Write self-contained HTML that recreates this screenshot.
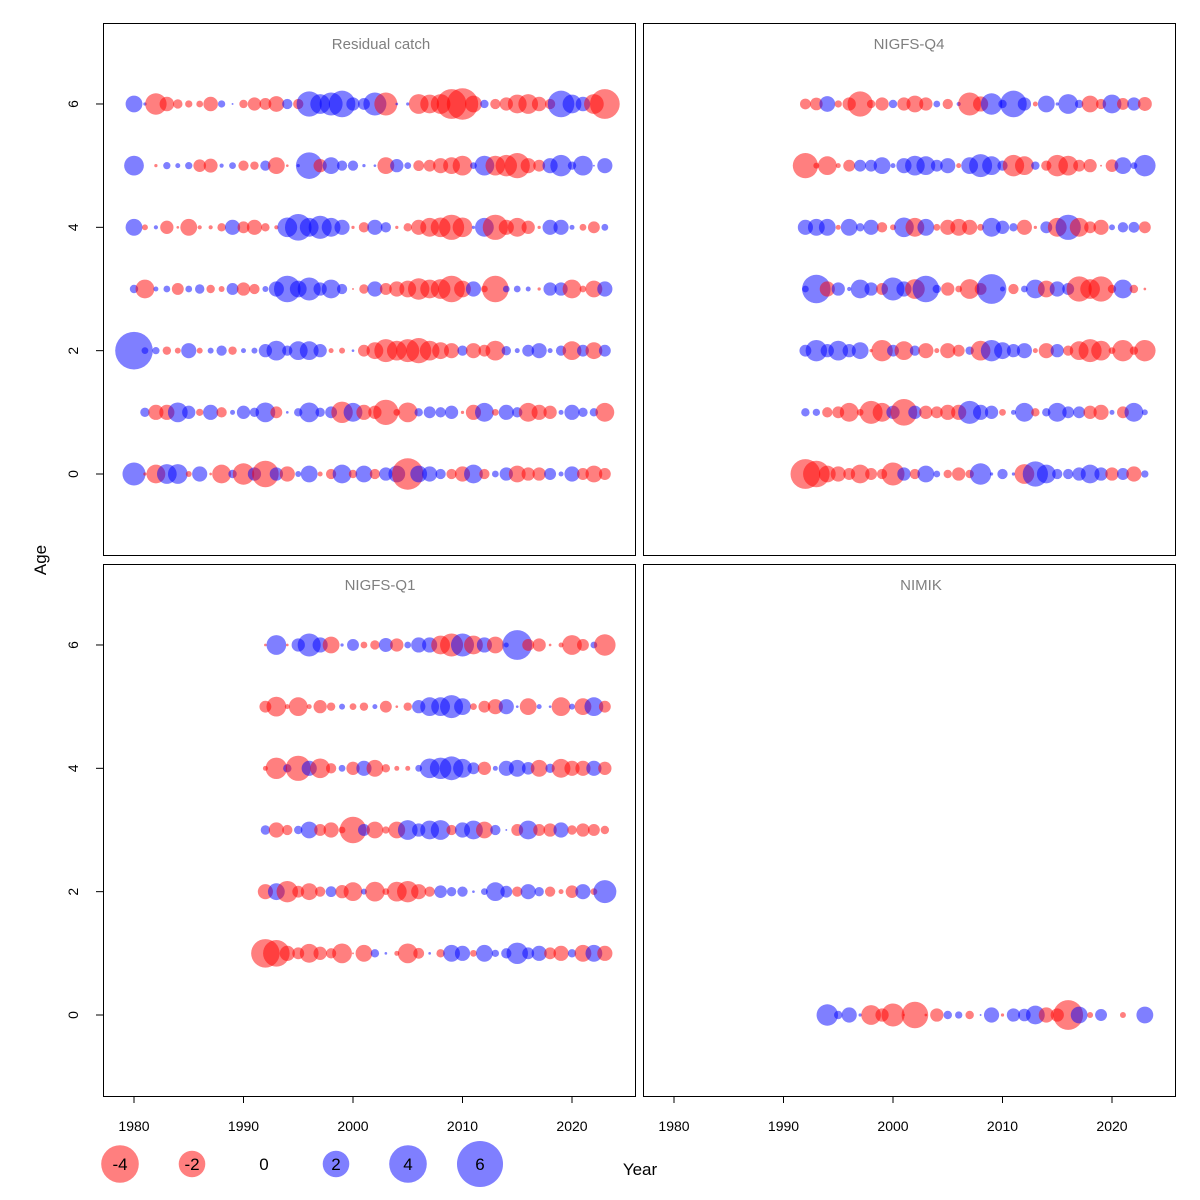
<!DOCTYPE html>
<html><head><meta charset="utf-8"><title>Residual bubble plots</title>
<style>html,body{margin:0;padding:0;background:#fff;}svg{display:block;font-family:"Liberation Sans",sans-serif;}</style>
</head><body>
<svg id="chart" width="1200" height="1200" viewBox="0 0 1200 1200" xmlns="http://www.w3.org/2000/svg"></svg>
<script>
// ---- data ----
const ages = [0, 1, 2, 3, 4, 5, 6];
const xTicks = [1980, 1990, 2000, 2010, 2020];
const yTicks = [0, 2, 4, 6];
const legendValues = [-4, -2, 0, 2, 4, 6];
const panelTitles = ["Residual catch", "NIGFS-Q4", "NIGFS-Q1", "NIMIK"];

const rcYears = [1980,1981,1982,1983,1984,1985,1986,1987,1988,1989,1990,1991,1992,1993,1994,1995,1996,1997,1998,1999,2000,2001,2002,2003,2004,2005,2006,2007,2008,2009,2010,2011,2012,2013,2014,2015,2016,2017,2018,2019,2020,2021,2022,2023];
const rcAge6 = [0.8,0.03,-1.3,-0.6,-0.25,-0.15,-0.13,-0.6,0.15,0.01,-0.2,-0.5,-0.4,-0.7,0.3,-0.3,1.8,1.1,1.5,2,0.5,0.4,1.5,-1.5,0.02,0.03,-1.1,-1,-1.1,-2.5,-2.8,-0.8,0.2,-0.3,-0.5,-1,-1.1,-0.6,-0.3,2,1,0.6,-1.1,-2.5];
const rcAge5 = [1.1,0,-0.03,0.15,0.07,0.15,-0.45,-0.55,0.05,0.13,-0.3,-0.2,0.3,-0.8,-0.02,0.03,2,-0.5,0.8,0.3,0.3,0.03,0.02,-0.8,0.5,0.13,-0.33,-0.4,-0.65,-0.8,-1.1,0.13,1.1,-1.1,-1.3,-1.8,-0.65,-0.4,0.65,1.3,0.2,1.1,0.01,0.65];
const rcAge4 = [0.8,-0.1,0.05,-0.5,-0.02,-0.8,-0.05,-0.05,-0.2,0.65,-0.4,-0.65,-0.2,-0.05,1.1,2,1,1.5,1,0.65,-0.03,-0.3,0.65,0.3,-0.03,-0.2,-0.65,-1,-1.1,-1.8,-1.1,0.03,1,-1.8,-0.65,-1,-0.5,-0.03,0.65,0.65,0.07,-0.13,-0.4,0.13];
const rcAge3 = [0.2,-1,0.07,0.13,-0.4,0.13,0.25,-0.2,-0.1,0.4,-0.5,-0.3,0.1,0.65,2,0.8,1.5,0.5,1,0.3,-0.01,-0.25,0.65,-0.4,-0.65,-0.8,-1.3,-1,-1.1,-2,-0.8,0.65,-0.13,-2,0.13,0.13,0.07,-0.03,0.5,0.5,-1,-0.13,-0.8,0.65];
const rcAge2 = [4,0.13,0.15,-0.2,-0.1,0.65,-0.1,0.1,0.3,-0.2,0.07,0.1,0.5,1.1,0.3,1,1,0.5,-0.07,-0.1,0.02,-0.4,-0.8,-1.5,-1.1,-1.5,-1.8,-1.1,-0.8,-0.65,0.3,-0.65,-0.4,-1.1,0.25,0.07,0.4,0.65,0.07,0.3,-1,0.4,-0.8,0.4];
const rcAge1 = [null,0.25,-0.65,-0.65,1.1,0.5,-0.15,0.65,-0.3,0.07,0.5,0.25,1.1,-0.4,0.02,0.2,1.1,0.25,0.4,-1.3,1,-0.65,-0.5,-1.8,-0.13,-1.1,0.2,0.4,0.3,0.5,-0.03,-0.65,1,-0.13,0.65,0.3,-1,-0.65,-0.5,0.07,0.65,0.25,0.2,-1];
const rcAge0 = [1.5,-0.03,-1,1.1,1.1,-0.1,0.65,-0.02,-1,0.2,-1.3,0.5,-2,0.5,-0.65,0.1,0.8,-0.07,-0.3,1,-0.2,0.8,-0.3,0.5,0.8,-2.8,0.8,0.65,0.3,-0.3,-0.65,1,-0.3,0.13,0.5,-0.8,-0.5,-0.5,0.4,0.07,0.65,-0.4,-0.8,-0.4];

const q4Years = [1992,1993,1994,1995,1996,1997,1998,1999,2000,2001,2002,2003,2004,2005,2006,2007,2008,2009,2010,2011,2012,2013,2014,2015,2016,2017,2018,2019,2020,2021,2022,2023];
const q4Age6 = [-0.33,-0.45,0.7,-0.15,-0.5,-1.8,-0.2,-0.5,0.2,-0.5,-0.8,-0.5,0.13,-0.3,0.05,-1.5,-0.65,1.3,0.2,2,0.5,-0.07,0.8,0.03,1.1,0.2,-0.8,-0.3,1,-0.4,0.5,-0.55];
const q4Age5 = [-1.8,-0.1,-1,-0.07,-0.4,0.4,0.4,0.8,0.07,0.65,1.1,1,0.4,0.65,-0.07,0.8,1.5,1,0.3,-1.3,-1,0.2,-0.3,-1.3,-1.1,-0.4,-0.5,-0.01,-0.45,0.8,0.13,1.3];
const q4Age4 = [0.65,0.8,0.8,-0.07,0.8,0.2,0.65,-0.3,-0.1,1.1,-1,0.8,-0.13,-0.65,-0.8,-0.65,-0.13,1,0.5,0.2,-0.65,-0.03,0.4,-1,1.8,-1,-0.4,-0.65,0.1,0.3,0.33,-0.4];
const q4Age3 = [0.13,2.3,-0.65,0.5,0.05,1,0.5,-0.4,1.5,0.65,-1.1,2,0.2,-0.5,-0.13,-1.1,-0.4,2.5,0.07,-0.3,0.13,1,-0.8,0.65,0.4,-1.8,-1.1,-1.8,-0.2,1,-0.2,-0.02];
const q4Age2 = [0.4,1.3,0.5,1.1,0.5,0.8,-0.03,-1.3,0.4,-1,0.3,-0.65,-0.07,-0.65,-0.4,0.2,-1.1,1.3,0.8,0.5,0.65,-0.07,-0.65,0.5,-0.3,-1,-1.5,-1.1,-0.13,-1.3,-0.2,-1.3];
const q4Age1 = [0.2,0.15,-0.3,-0.4,-1,-0.13,-1.5,-1,0.5,-2,0.5,-0.5,-0.4,-0.65,-0.65,1.5,0.65,0.5,-0.13,0.07,1,-0.2,0.2,1,0.4,0.4,-0.5,-0.65,0.07,-0.4,1,0.1];
const q4Age0 = [-2.5,-2,-0.8,-0.65,-0.4,-1,-0.4,-0.3,-1.5,0.5,-0.3,0.8,0.13,-0.2,-0.5,-0.2,1.3,0.03,0.3,0.03,-1.1,1.8,1,0.3,0.3,0.5,1,0.5,-0.5,0.4,-0.65,0.15];

const q1Years = [1992,1993,1994,1995,1996,1997,1998,1999,2000,2001,2002,2003,2004,2005,2006,2007,2008,2009,2010,2011,2012,2013,2014,2015,2016,2017,2018,2019,2020,2021,2022,2023];
const q1Age6 = [-0.02,1.1,-0.02,0.5,1.5,0.65,-0.8,0.03,0.4,-0.13,-0.25,0.55,-0.5,0.13,0.65,0.65,-1,-1.5,1.5,-1,0.65,-0.8,0.07,2.5,-0.4,-0.5,-0.02,-0.07,-1.1,-0.4,0.13,-1.3];
const q1Age5 = [-0.4,-1.1,-0.07,-1,-0.07,-0.5,-0.2,0.1,-0.13,-0.2,0.07,-0.4,-0.02,-0.2,0.5,1,1,1.5,0.8,-0.13,-0.4,-0.65,0.65,0.02,-0.8,0.07,0.02,-1,0.1,-0.8,1,-0.4];
const q1Age4 = [-0.07,-1.3,0.2,-1.8,0.65,-1.1,-0.3,0.13,-0.5,0.65,-0.8,-0.2,-0.07,-0.07,0.13,1.1,1.3,1.6,1,0.4,-0.5,0.07,0.65,0.8,0.45,-0.8,0.25,-1,-0.65,-0.65,0.65,-0.5];
const q1Age3 = [0.25,-0.65,-0.3,0.2,0.8,-0.4,-0.65,-0.13,-2,0.4,-0.8,-0.15,-0.8,1.1,0.5,1,1.1,-0.3,0.65,1,-0.8,0.3,0.01,-0.4,1,-0.4,-0.5,0.65,-0.25,-0.5,-0.4,-0.2];
const q1Age2 = [-0.65,0.8,-1.3,-0.4,-0.8,-0.3,0.33,-0.5,-1,0.1,-1.1,-0.13,-1.1,-1.3,-0.65,-0.3,0.45,0.25,0.3,0.02,0.13,1,0.4,-0.3,0.65,0.25,-0.3,-0.07,-0.45,0.65,-0.13,1.5];
const q1Age1 = [-2.3,-2,-0.65,-0.4,-1,-0.5,-0.3,-1.1,-0.01,-0.8,0.2,0.02,-0.07,-1.1,-0.33,0.02,-0.2,0.8,0.65,-0.13,0.8,0.15,0.3,1.3,0.4,0.65,-0.4,-0.65,0.2,-0.8,0.8,-0.65];

const nmYears = [1994,1995,1996,1997,1998,1999,2000,2001,2002,2003,2004,2005,2006,2007,2008,2009,2010,2011,2012,2013,2014,2015,2016,2017,2018,2019,2021,2023];
const nmAge0 = [1.3,0.2,0.65,0.03,-1.1,-0.5,-1.5,-0.01,-2,-0.02,-0.5,0.2,0.15,-0.2,0.01,0.65,-0.03,0.5,0.45,1,-0.65,-0.5,-2.5,0.8,-0.1,0.4,-0.1,0.8];

// ---- layout ----
const NS = "http://www.w3.org/2000/svg";
const svg = document.getElementById("chart");
const panels = [
  {x0:103,y0:23,x1:635,y1:555,tx:381},
  {x0:643,y0:23,x1:1175,y1:555,tx:909},
  {x0:103,y0:564,x1:635,y1:1096,tx:380},
  {x0:643,y0:564,x1:1175,y1:1096,tx:921}
];
const panelSeries = [
  {years:rcYears, rows:[rcAge0,rcAge1,rcAge2,rcAge3,rcAge4,rcAge5,rcAge6]},
  {years:q4Years, rows:[q4Age0,q4Age1,q4Age2,q4Age3,q4Age4,q4Age5,q4Age6]},
  {years:q1Years, rows:[null,q1Age1,q1Age2,q1Age3,q1Age4,q1Age5,q1Age6]},
  {years:nmYears, rows:[nmAge0,null,null,null,null,null,null]}
];
const RSCALE = 9.4;
function xScale(p, yr){ return p.x0 + 31 + (yr - 1980) * 10.95; }
function yScale(p, age){ return p.y0 + 451 - age * 61.67; }
function rScale(v){ return RSCALE * Math.sqrt(Math.abs(v)); }
function mk(tag, attrs){ const e = document.createElementNS(NS, tag); for (const k in attrs) e.setAttribute(k, attrs[k]); svg.appendChild(e); return e; }

panels.forEach((p, i) => {
  const frame = mk("rect", {x:p.x0+0.5, y:p.y0+0.5, width:p.x1-p.x0, height:p.y1-p.y0, fill:"none", stroke:"#000", "stroke-width":1});
  
  
  const t = mk("text", {x:p.tx, y:p.y0+26, "text-anchor":"middle", "font-size":15, fill:"#7f7f7f"});
  t.textContent = panelTitles[i];
  
  
  const s = panelSeries[i];
  s.rows.forEach((row, ai) => {
    if (!row) return;
    row.forEach((v, k) => {
      if (v === null || v === 0) return;
      const c = mk("circle", {cx:xScale(p, s.years[k]), cy:yScale(p, ages[ai]), r:rScale(v), fill: v < 0 ? "rgba(255,0,0,0.5)" : "rgba(0,0,255,0.5)"});
      
      
    });
  });
  if (i === 0 || i === 2) {
    yTicks.forEach(a => {
      const y = yScale(p, a);
      const tk = mk("line", {x1:p.x0-7, x2:p.x0, y1:y, y2:y, stroke:"#000"});
      
      
      const lb = mk("text", {x:78, y:y, "font-size":14, "text-anchor":"middle", transform:"rotate(-90 78 " + y + ")"});
      lb.textContent = a;
      
      
    });
  }
  if (i >= 2) {
    const ax = mk("line", {x1:xScale(p, xTicks[0]), x2:xScale(p, xTicks[xTicks.length-1]), y1:p.y1+0.5, y2:p.y1+0.5, stroke:"#000"});
    
    
    xTicks.forEach(yr => {
      const x = xScale(p, yr);
      const tk = mk("line", {x1:x, x2:x, y1:p.y1, y2:p.y1+7, stroke:"#000"});
      
      
      const lb = mk("text", {x:x, y:p.y1+35, "font-size":14, "text-anchor":"middle"});
      lb.textContent = yr;
      
      
    });
  }
});

const ylab = mk("text", {x:46, y:560, "font-size":17, "text-anchor":"middle", transform:"rotate(-90 46 560)"});
ylab.textContent = "Age";


const xlab = mk("text", {x:640, y:1175, "font-size":17, "text-anchor":"middle"});
xlab.textContent = "Year";



legendValues.forEach((v, k) => {
  const cx = 120 + k * 72, cy = 1164;
  if (v !== 0) {
    const c = mk("circle", {cx:cx, cy:cy, r:rScale(v), fill: v < 0 ? "rgba(255,0,0,0.5)" : "rgba(0,0,255,0.5)"});
    
    
  }
  const t = mk("text", {x:cx, y:cy+6, "font-size":17, "text-anchor":"middle"});
  t.textContent = v;
  
  
});
</script>
</body></html>
